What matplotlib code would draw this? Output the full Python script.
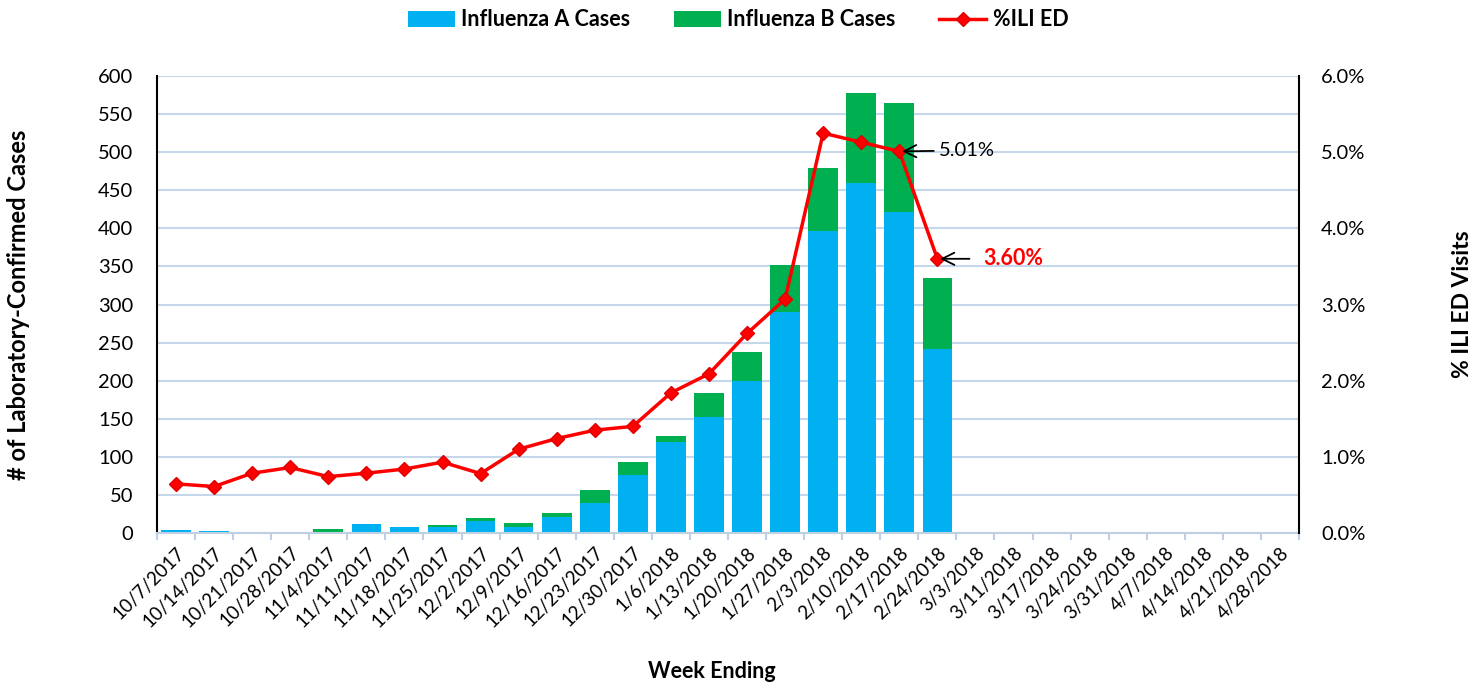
import matplotlib
matplotlib.use("Agg")
import matplotlib.pyplot as plt
import numpy as np

weeks = ["10/7/2017", "10/14/2017", "10/21/2017", "10/28/2017", "11/4/2017", "11/11/2017",
         "11/18/2017", "11/25/2017", "12/2/2017", "12/9/2017", "12/16/2017", "12/23/2017",
         "12/30/2017", "1/6/2018", "1/13/2018", "1/20/2018", "1/27/2018", "2/3/2018",
         "2/10/2018", "2/17/2018", "2/24/2018", "3/3/2018", "3/11/2018", "3/17/2018",
         "3/24/2018", "3/31/2018", "4/7/2018", "4/14/2018", "4/21/2018", "4/28/2018"]
flu_a = [4, 2, 0, 0, 1, 12, 8, 8, 16, 8, 21, 40, 76, 119, 152, 199, 290, 396, 459, 421, 242]
flu_b = [0, 0, 0, 0, 4, 0, 0, 2, 4, 5, 5, 16, 17, 8, 32, 38, 62, 83, 119, 143, 93]
ili_pct = [0.645, 0.61, 0.785, 0.86, 0.74, 0.785, 0.84, 0.93, 0.78, 1.10, 1.24, 1.35, 1.40,
           1.84, 2.09, 2.62, 3.07, 5.25, 5.13, 5.01, 3.60]

plt.rcParams['font.family'] = ['Lato', 'DejaVu Sans']

fig = plt.figure(figsize=(14.83, 6.83), dpi=100)
ax = fig.add_axes([157/1483, 1-533/683, (1299-157)/1483, (533-76)/683])
ax2 = ax.twinx()

n = len(flu_a)
x = np.arange(n)
blue = "#00B0F0"
green = "#00B050"
ax.bar(x, flu_a, width=0.78, color=blue, label="Influenza A Cases", zorder=2)
ax.bar(x, flu_b, width=0.78, bottom=flu_a, color=green, label="Influenza B Cases", zorder=2)

ax.set_xlim(-0.5, len(weeks) - 0.5)
ax.set_ylim(0, 600)
ax.set_yticks(np.arange(0, 601, 50))
ax.grid(axis='y', color="#C5D7EA", linewidth=1.5, zorder=0)
ax.set_axisbelow(True)

ax.set_xticks(np.arange(len(weeks)))
ax.set_xticklabels(weeks, rotation=45, ha='right', rotation_mode='anchor', fontsize=13.5)
ax.set_xticks(np.arange(-0.5, len(weeks), 1), minor=True)
ax.tick_params(axis='x', which='major', length=0, pad=8)
ax.tick_params(axis='x', which='minor', length=5, color="#BFD0E3", width=1.5)
ax.tick_params(axis='y', length=0, labelsize=14.5, pad=17)

for s in ['top']:
    ax.spines[s].set_visible(False)
    ax2.spines[s].set_visible(False)
ax.spines['bottom'].set_color("#BFD0E3")
ax.spines['bottom'].set_linewidth(1.5)
ax2.spines['bottom'].set_visible(False)
ax.spines['left'].set_color('black')
ax.spines['left'].set_linewidth(1.5)
ax2.spines['left'].set_visible(False)
ax2.spines['right'].set_color('black')
ax2.spines['right'].set_linewidth(1.5)
ax.spines['right'].set_visible(False)

ax2.plot(np.arange(len(ili_pct)), ili_pct, color="#FF0000", linewidth=2.5, marker='D',
         markersize=7, markerfacecolor="#FF0000", markeredgecolor="#E00000", label="%ILI ED", zorder=3)
ax2.set_ylim(0, 6)
ax2.set_yticks(np.arange(0, 6.01, 1))
ax2.set_yticklabels([f"{v:.1f}%" for v in np.arange(0, 6.01, 1)])
ax2.tick_params(axis='y', length=0, labelsize=14.5, pad=16)

ax2.annotate("5.01%", xy=(19, ili_pct[19]), xytext=(40, 1), textcoords='offset pixels',
             fontsize=14.5, color='black', va='center',
             arrowprops=dict(arrowstyle='->', color='black', lw=1.3, shrinkA=2, shrinkB=2,
                             mutation_scale=22))
ax2.annotate("3.60%", xy=(20, ili_pct[20]), xytext=(46, 0), textcoords='offset pixels',
             fontsize=15.5, color='#FF0000', fontweight='bold', va='center',
             arrowprops=dict(arrowstyle='->', color='black', lw=1.3, shrinkA=8, shrinkB=2,
                             mutation_scale=22))

ax.set_ylabel("# of Laboratory-Confirmed Cases", fontsize=17, fontweight='bold')
ax.yaxis.set_label_coords(-127/1142, 0.5)
ax2.set_ylabel("% ILI ED Visits", fontsize=16.5, fontweight='bold', rotation=90)
ax2.yaxis.set_label_coords(1 + 153/1142, 0.5)
fig.text(712/1483, 1-672/683, "Week Ending", fontsize=15.5, fontweight='bold', ha='center', va='center')

h1, l1 = ax.get_legend_handles_labels()
h2, l2 = ax2.get_legend_handles_labels()
fig.legend(h1 + h2, l1 + l2, loc='center', bbox_to_anchor=(738/1483, 1-20/683), ncol=3,
           frameon=False, handlelength=2.2, handleheight=0.7, handletextpad=0.3, columnspacing=2.0,
           prop={'weight': 'bold', 'size': 15.5})

fig.savefig("out.png", dpi=100)
